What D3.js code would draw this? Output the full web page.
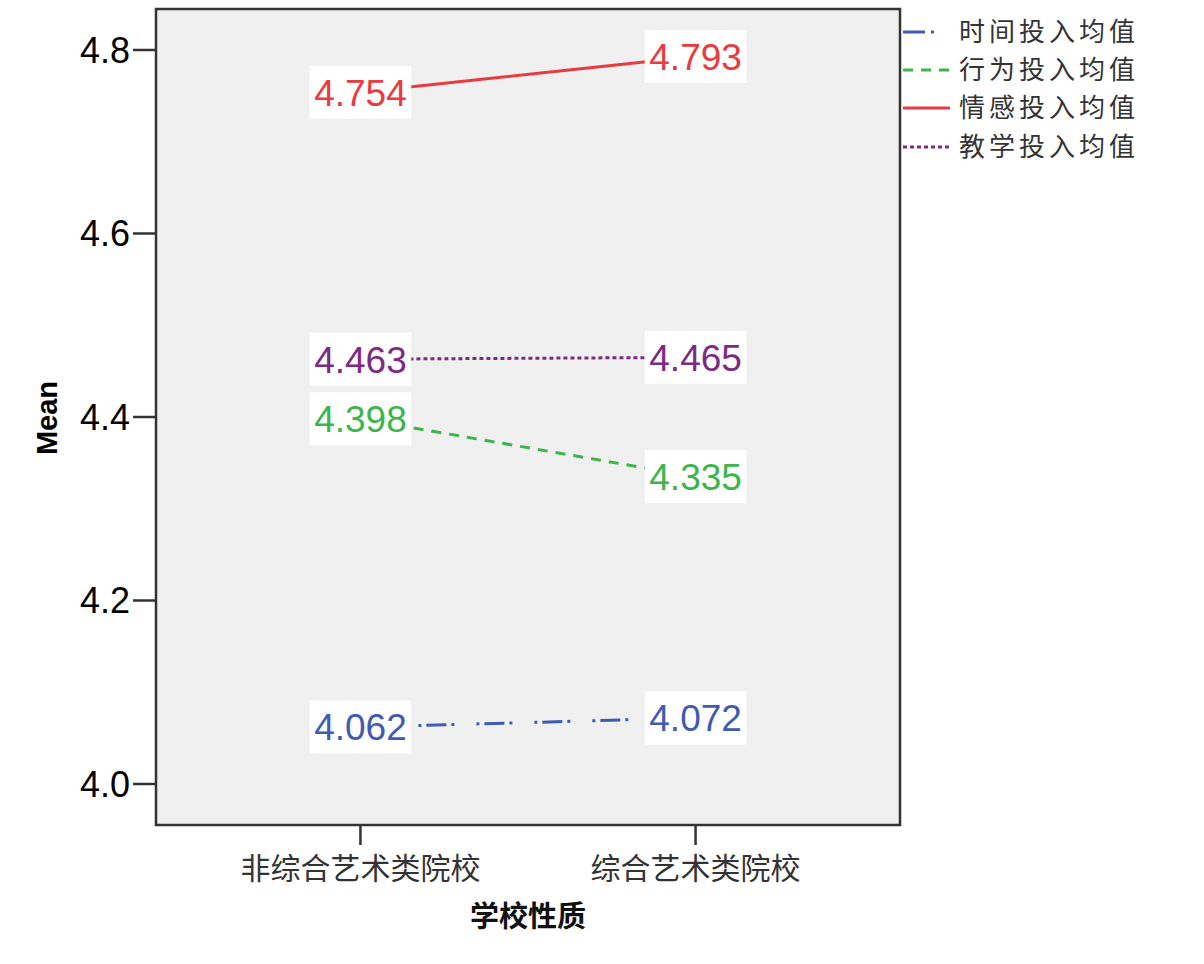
<!DOCTYPE html>
<html>
<head>
<meta charset="utf-8">
<script src="https://cdn.jsdelivr.net/npm/d3@7/dist/d3.min.js"></script>
<style>
  body { margin: 0; background: #fff; }
  svg { display: block; }
</style>
</head>
<body>
<script>
// data
var categories = ["非综合艺术类院校", "综合艺术类院校"];
var seriesNames = ["时间投入均值", "行为投入均值", "情感投入均值", "教学投入均值"];
var timeVals = [4.062, 4.072];
var behaviorVals = [4.398, 4.335];
var emotionVals = [4.754, 4.793];
var teachVals = [4.463, 4.465];
var yTicks = [4.0, 4.2, 4.4, 4.6, 4.8];

var width = 1204, height = 964;

// plot box (not "top", that one is taken by window)
var plotL = 156, plotR = 900, plotT = 9, plotB = 825;

var svg = d3.select("body").append("svg")
  .attr("width", width)
  .attr("height", height);

var x = d3.scalePoint()
  .domain(categories)
  .range([plotL, plotR])
  .padding(0.61);

var y = d3.scaleLinear()
  .domain([4.0, 4.8])
  .range([784, 50]);

var series = [
  { name: seriesNames[0], values: timeVals, color: "#3f5bb2", dash: "3,5,20,5,3,22" },
  { name: seriesNames[1], values: behaviorVals, color: "#3cb54b", dash: "10,8" },
  { name: seriesNames[2], values: emotionVals, color: "#ea3a40", dash: null },
  { name: seriesNames[3], values: teachVals, color: "#7d2a85", dash: "4,3" }
];

// background
svg.append("rect")
  .attr("x", plotL).attr("y", plotT)
  .attr("width", plotR - plotL).attr("height", plotB - plotT)
  .attr("fill", "#f0f0f0");

// y ticks
var yg = svg.append("g");
yg.selectAll("line").data(yTicks).enter().append("line")
  .attr("x1", plotL - 23).attr("x2", plotL)
  .attr("y1", function(d) { return y(d); })
  .attr("y2", function(d) { return y(d); })
  .attr("stroke", "#333").attr("stroke-width", 2.5);
yg.selectAll("text").data(yTicks).enter().append("text")
  .attr("x", plotL - 26)
  .attr("y", function(d) { return y(d); })
  .attr("dy", "0.36em")
  .attr("text-anchor", "end")
  .attr("font-family", "Liberation Sans, Arial, sans-serif")
  .attr("font-size", 36)
  .attr("fill", "#000")
  .text(function(d) { return d.toFixed(1); });

// x ticks
var xg = svg.append("g");
xg.selectAll("line").data(categories).enter().append("line")
  .attr("x1", function(d) { return x(d); })
  .attr("x2", function(d) { return x(d); })
  .attr("y1", plotB).attr("y2", plotB + 20)
  .attr("stroke", "#333").attr("stroke-width", 2.5);
xg.selectAll("text").data(categories).enter().append("text")
  .attr("x", function(d) { return x(d); })
  .attr("y", 868)
  .attr("dy", "0.36em")
  .attr("text-anchor", "middle")
  .attr("font-family", "Noto Sans CJK SC, sans-serif")
  .attr("font-size", 30)
  .attr("fill", "#333")
  .text(function(d) { return d; });

// axis titles
svg.append("text")
  .attr("x", (plotL + plotR) / 2)
  .attr("y", 917)
  .attr("dy", "0.36em")
  .attr("text-anchor", "middle")
  .attr("font-family", "Noto Sans CJK SC, sans-serif")
  .attr("font-weight", "bold")
  .attr("font-size", 29)
  .attr("fill", "#111")
  .text("学校性质");

svg.append("text")
  .attr("transform", "translate(47,418) rotate(-90)")
  .attr("dy", "0.36em")
  .attr("text-anchor", "middle")
  .attr("font-family", "Liberation Sans, Arial, sans-serif")
  .attr("font-weight", "bold")
  .attr("font-size", 29)
  .attr("fill", "#000")
  .text("Mean");

// lines
var line = d3.line()
  .x(function(d, i) { return x(categories[i]); })
  .y(function(d) { return y(d); });

svg.selectAll(".series").data(series).enter().append("path")
  .attr("class", "series")
  .attr("d", function(s) { return line(s.values); })
  .attr("fill", "none")
  .attr("stroke", function(s) { return s.color; })
  .attr("stroke-width", 3)
  .attr("stroke-dasharray", function(s) { return s.dash; });

// value labels with white boxes
series.forEach(function(s) {
  s.values.forEach(function(v, i) {
    var g = svg.append("g")
      .attr("transform", "translate(" + x(categories[i]) + "," + y(v) + ")");
    var box = g.append("rect").attr("fill", "#fff");
    var t = g.append("text")
      .attr("text-anchor", "middle")
      .attr("dy", "0.36em")
      .attr("font-family", "Liberation Sans, Arial, sans-serif")
      .attr("font-size", 37)
      .attr("fill", s.color)
      .text(v.toFixed(3));
    var w = t.node().getComputedTextLength() + 9;
    box.attr("x", -w / 2).attr("y", -26.5).attr("width", w).attr("height", 53);
  });
});

// plot border
svg.append("rect")
  .attr("x", plotL).attr("y", plotT)
  .attr("width", plotR - plotL).attr("height", plotB - plotT)
  .attr("fill", "none")
  .attr("stroke", "#333").attr("stroke-width", 2.5);

// legend
var legendY = [32, 70, 108, 147];
var lg = svg.selectAll(".legend").data(series).enter().append("g")
  .attr("class", "legend")
  .attr("transform", function(d, i) { return "translate(903," + legendY[i] + ")"; });
lg.append("line")
  .attr("x1", 0).attr("x2", function(d, i) { return i == 0 ? 31 : 47; })
  .attr("y1", 0).attr("y2", 0)
  .attr("stroke", function(d) { return d.color; })
  .attr("stroke-width", 3)
  .attr("stroke-dasharray", function(d, i) {
    if (i == 0) return "22,6,3,50";
    return d.dash;
  });
lg.append("text")
  .attr("x", 56)
  .attr("dy", "0.36em")
  .attr("font-family", "Noto Sans CJK SC, sans-serif")
  .attr("font-size", 26)
  .attr("letter-spacing", 4)
  .attr("fill", "#333")
  .text(function(d) { return d.name; });
</script>
</body>
</html>
